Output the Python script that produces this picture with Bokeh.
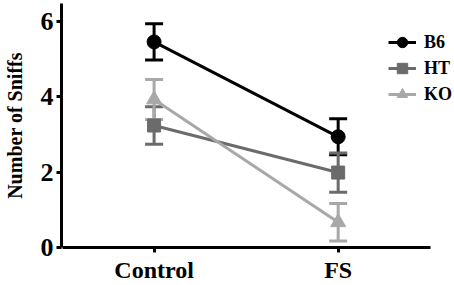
from bokeh.plotting import figure
from bokeh.models import ColumnDataSource, Whisker, TeeHead, Legend, LegendItem, FixedTicker, Range1d
from bokeh.embed import file_html
from bokeh.resources import INLINE

conditions = ["Control", "FS"]
cond_pos = [0, 1]
groups = ["B6", "HT", "KO"]
means = {
    "B6": [5.46, 2.94],
    "HT": [3.24, 1.99],
    "KO": [3.93, 0.67],
}
sems = {
    "B6": [0.48, 0.48],
    "HT": [0.50, 0.52],
    "KO": [0.53, 0.50],
}
y_ticks = [0, 2, 4, 6]
colors = {"B6": "#000000", "HT": "#6b6b6b", "KO": "#a8a8a8"}
markers = {"B6": "circle", "HT": "square", "KO": "triangle"}
sizes = {"B6": 14, "HT": 13, "KO": 15}

FONT = "Liberation Serif"

p = figure(width=454, height=285, x_range=Range1d(-0.503, 1.632),
           y_range=Range1d(0, 6.48), output_backend="svg", toolbar_location=None,
           min_border_left=59, min_border_right=0, min_border_top=3, min_border_bottom=38)
p.outline_line_color = None
p.xgrid.visible = False
p.ygrid.visible = False
p.background_fill_color = "white"
p.border_fill_color = "white"

items = []
for g in groups:
    src = ColumnDataSource(dict(
        x=cond_pos, y=means[g],
        upper=[m + s for m, s in zip(means[g], sems[g])],
        lower=[m - s for m, s in zip(means[g], sems[g])],
    ))
    w = Whisker(source=src, base="x", upper="upper", lower="lower", dimension="height",
                line_color=colors[g], line_width=3,
                upper_head=TeeHead(size=18, line_color=colors[g], line_width=3),
                lower_head=TeeHead(size=18, line_color=colors[g], line_width=3))
    p.add_layout(w)
    l = p.line("x", "y", source=src, line_color=colors[g], line_width=3)
    s = p.scatter("x", "y", source=src, marker=markers[g], size=sizes[g],
                  fill_color=colors[g], line_color=colors[g])
    items.append(LegendItem(label=g, renderers=[l, s]))

legend = Legend(items=items, location=(327, 140), glyph_width=28, glyph_height=26,
                label_height=20, spacing=0, padding=0, margin=0, label_standoff=8,
                border_line_color=None, background_fill_alpha=0,
                label_text_font=FONT, label_text_font_style="bold",
                label_text_font_size="18px", label_text_color="black")
p.add_layout(legend)

for ax in (p.xaxis, p.yaxis):
    ax.axis_line_width = 3
    ax.axis_line_color = "black"
    ax.major_tick_line_width = 3
    ax.major_tick_line_color = "black"
    ax.major_tick_out = 5
    ax.major_tick_in = 0
    ax.minor_tick_line_color = None
    ax.major_label_text_font = FONT
    ax.major_label_text_font_style = "bold"
    ax.major_label_text_color = "black"

p.xaxis.bounds = (-0.5, 1.5)
p.xaxis.ticker = FixedTicker(ticks=cond_pos)
p.xaxis.major_label_overrides = {pos: name for pos, name in zip(cond_pos, conditions)}
p.xaxis.major_label_text_font_size = "24px"
p.xaxis.major_label_standoff = 4

p.yaxis.ticker = FixedTicker(ticks=y_ticks)
p.yaxis.major_label_text_font_size = "26px"
p.yaxis.major_label_standoff = 3
p.yaxis.axis_label = "Number of Sniffs"
p.yaxis.axis_label_text_font = FONT
p.yaxis.axis_label_text_font_style = "bold"
p.yaxis.axis_label_text_font_size = "20px"
p.yaxis.axis_label_text_color = "black"
p.yaxis.axis_label_standoff = 12

open("out.html", "w").write(file_html(p, INLINE))
